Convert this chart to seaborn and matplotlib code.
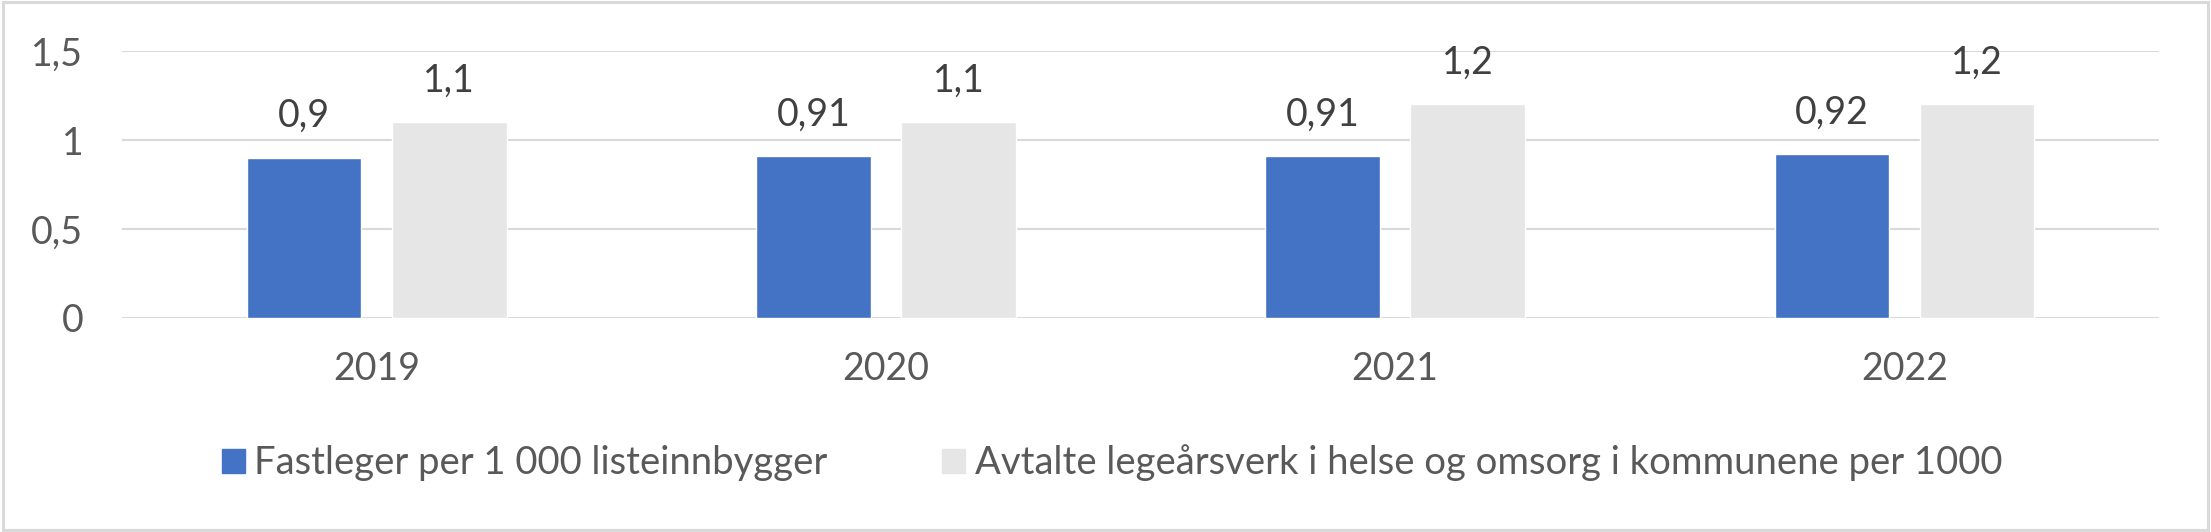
import matplotlib
matplotlib.use("Agg")
import matplotlib.pyplot as plt
import matplotlib.patches as mpatches
import seaborn as sns
import pandas as pd

years = ["2019", "2020", "2021", "2022"]
series_names = ["Fastleger per 1 000 listeinnbygger",
                "Avtalte legeårsverk i helse og omsorg i kommunene per 1000"]
fastleger = [0.90, 0.91, 0.91, 0.92]
avtalte = [1.1, 1.1, 1.2, 1.2]
y_ticks = [0, 0.5, 1, 1.5]
y_tick_labels = ["0", "0,5", "1", "1,5"]

colors = ["#4472C4", "#E7E6E6"]

df = pd.DataFrame({
    "year": years * 2,
    "series": [series_names[0]] * 4 + [series_names[1]] * 4,
    "value": fastleger + avtalte,
})

sns.set_theme(style="white")
plt.rcParams["font.family"] = ["Lato", "DejaVu Sans"]

FS = 27

fig = plt.figure(figsize=(22.11, 5.32), dpi=100)
ax = fig.add_axes([0.0552, 0.4023, 0.9213, 0.5017])

sns.barplot(data=df, x="year", y="value", hue="series", palette=colors,
            width=0.57, gap=0.21, ax=ax, legend=False, saturation=1)

ax.set_ylim(0, 1.5)
ax.set_yticks(y_ticks)
ax.set_yticklabels(y_tick_labels)
ax.set_xlim(-0.5, 3.5)
ax.set_xlabel("")
ax.set_ylabel("")
ax.grid(axis="y", color="#D9D9D9", linewidth=1.5)
ax.set_axisbelow(True)
for s in ax.spines.values():
    s.set_visible(False)
ax.tick_params(axis="y", length=0, pad=28, labelsize=FS, labelcolor="#595959")
ax.tick_params(axis="x", length=0, pad=24, labelsize=FS, labelcolor="#595959")

for cont in ax.containers:
    labels = [f"{v:g}".replace(".", ",") for v in cont.datavalues]
    ax.bar_label(cont, labels=labels, padding=17, fontsize=FS, color="#404040")

handles = [mpatches.Patch(color=c, label=n) for c, n in zip(colors, series_names)]
fig.legend(handles=handles, loc="center", bbox_to_anchor=(0.503, 0.13), ncol=2,
           frameon=False, fontsize=FS + 0.5, labelcolor="#595959",
           handlelength=0.6, handleheight=0.6, handletextpad=0.25, columnspacing=3.0)

border = mpatches.Rectangle((0.0015, 0.003), 0.997, 0.994, transform=fig.transFigure,
                            fill=False, edgecolor="#D9D9D9", linewidth=2.2)
fig.patches.append(border)

fig.savefig("out.png", dpi=100)
